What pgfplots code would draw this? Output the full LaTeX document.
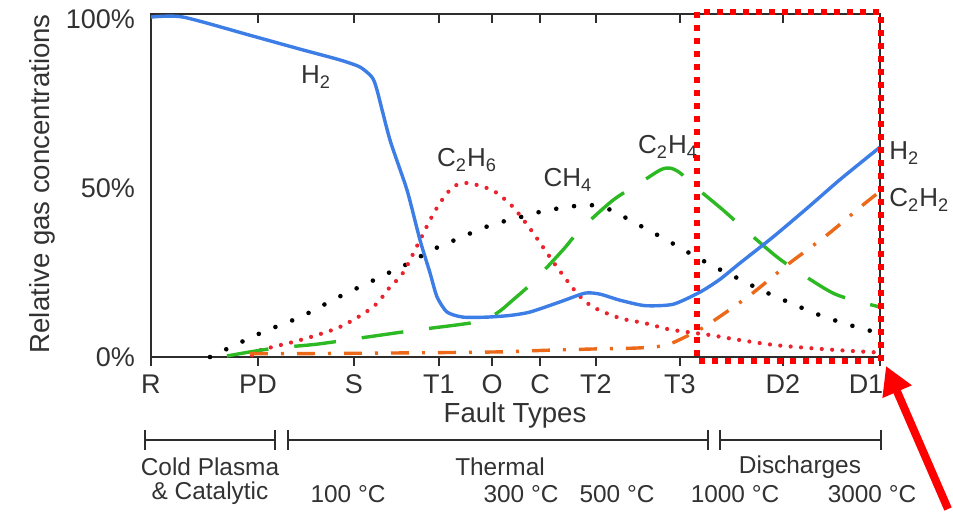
\documentclass[border=0pt]{standalone}
\usepackage{pgfplots}
\pgfplotsset{compat=1.18}
\usepackage{fontspec}
\setmainfont{Liberation Sans}
\usetikzlibrary{arrows.meta}
\definecolor{hblue}{RGB}{60,125,230}
\definecolor{cred}{RGB}{235,35,45}
\definecolor{cgreen}{RGB}{45,185,35}
\definecolor{corange}{RGB}{235,105,25}
\definecolor{textgray}{RGB}{50,50,50}
\definecolor{axisgray}{RGB}{45,45,45}
\definecolor{boxred}{RGB}{255,0,0}
\begin{document}
\begin{tikzpicture}[font=\fontsize{12.5}{15}\selectfont]
\begin{scope}[x=0.5pt,y=-0.5pt,shift={(-75.5pt,178.5pt)}]
\useasboundingbox (0,0) rectangle (953,509);
\end{scope}
\begin{axis}[
  scale only axis, width=364.5pt, height=171.5pt,
  xmin=151, xmax=880, ymin=0, ymax=101.5,
  axis line style={draw=axisgray, line width=1.2pt},
  xtick={151,258,354,439,492,540,596,680,783,880},
  xticklabels={R,PD,S,T1,O,C,T2,T3,D2,{\hspace*{-14pt}D1}},
  xtick pos=left, tick align=outside, major tick length=4.5pt,
  xtick style={draw=axisgray, line width=1.2pt},
  xticklabel style={yshift=-1pt},
  ytick={0,50,100}, yticklabels={0\%,50\%,100\%},
  ytick style={draw=none},
  ticklabel style={text=textgray, font=\fontsize{13.5}{16}\selectfont},
  xlabel={Fault Types}, ylabel={Relative gas concentrations},
  label style={text=textgray, font=\fontsize{13.8}{16}\selectfont},
  xlabel style={at={(axis description cs:0.4993,-0.169)}, anchor=center},
  ylabel style={at={(axis description cs:-0.1495,0.505)}, anchor=center},
  clip=false,
]
% CH4 (black dotted)
\addplot[black, line width=2.3pt, line cap=round, dash pattern=on 0pt off 9pt, smooth, tension=0.5] coordinates {
(210,0)(227,2.4)(263,7.4)(300,11.8)(335,17.2)(353,19.8)(370,22.2)(388,24.8)(407,27.5)(423,30.2)(442,33.1)(460,35.2)(478,37.6)(497,39.6)(517,41.1)(535,42.6)(555,43.8)(573,44.6)(590,45)(610,43.6)(630,40.5)(648,37.6)(665,34.9)(682,32)(700,29)(717,26.3)(735,23.7)(753,21)(770,18.6)(788,16.3)(807,13.9)(825,11.8)(844,10)(863,8.3)(880,7.1)};
% C2H6 (red dotted)
\addplot[cred, line width=2.1pt, line cap=round, dash pattern=on 0pt off 5.2pt, smooth, tension=0.5] coordinates {
(252,0.5)(260,2)(300,5)(340,8.9)(373,14.8)(390,20.7)(403,24.9)(420,34.6)(430,40.5)(440,45.6)(453,50.3)(467,51.5)(487,50)(497,48.5)(513,44.4)(530,38)(547,30.8)(557,26.6)(577,18.9)(593,14.8)(620,11.5)(645,10)(667,8.3)(687,7.4)(710,6.5)(740,5)(773,3.6)(807,2.7)(840,2)(880,1.3)};
% C2H4 (green dashed)
\addplot[cgreen, line width=1.7pt, dash pattern=on 21pt off 13pt, smooth, tension=0.5] coordinates {
(227,0.3)(250,1.5)(277,2.7)(317,3.8)(367,5.9)(417,8)(477,10.4)(497,13)(513,16.9)(533,22.2)(563,31.7)(580,37.6)(613,46.4)(640,51.5)(660,55.3)(670,55.9)(680,54.5)(693,50.9)(723,43.5)(743,38.2)(777,29.6)(800,24.9)(833,18.9)(860,16.3)(880,14.8)};
% C2H2 (orange dash-dot)
\addplot[corange, line width=1.7pt, dash pattern=on 9pt off 6.5pt on 1.5pt off 6.5pt, smooth, tension=0.5] coordinates {
(250,1)(300,1)(400,1.2)(497,1.5)(547,2)(597,2.4)(640,2.7)(667,3.6)(693,7.1)(710,10)(750,18.3)(787,27.2)(827,36.1)(863,45)(880,49)};
% H2 (blue solid)
\addplot[hblue, line width=1.7pt, smooth, tension=0.4] coordinates {
(151,100.6)(183,100.6)(250,95.2)(300,91.1)(340,87.9)(360,85.8)(372,82.8)(377,79)(390,64.2)(407,49.4)(420,34.6)(430,24.9)(437,17.8)(447,13.3)(463,11.8)(487,11.8)(510,12.3)(530,13.3)(560,16.3)(585,18.9)(600,18.6)(620,16.8)(645,15.2)(673,15.6)(700,19.2)(720,23)(740,27.8)(773,35.5)(807,44)(840,52.5)(880,62.1)};
\end{axis}
\begin{scope}[x=0.5pt,y=-0.5pt,shift={(-75.5pt,178.5pt)}, text=textgray]
% top-axis tick marks pointing inward
\foreach \xx in {258,354,439,492,540,596,680,783}
  \draw[axisgray, line width=1.2pt] (\xx,14) -- (\xx,23);
% series labels
\begin{scope}[font=\fontsize{13}{15}\selectfont]
\node at (316,77) {H\textsubscript{2}};
\node at (467,160) {C\textsubscript{2}H\textsubscript{6}};
\node at (568,180) {CH\textsubscript{4}};
\node at (668,147) {C\textsubscript{2}H\textsubscript{4}};
\node[anchor=west, inner sep=0pt] at (889,153) {H\textsubscript{2}};
\node[anchor=west, inner sep=0pt] at (889,200) {C\textsubscript{2}H\textsubscript{2}};
\end{scope}
% brackets
\draw[axisgray, line width=1pt] (145,440) -- (275,440) (145,430) -- (145,450) (275,430) -- (275,450);
\draw[axisgray, line width=1pt] (288,440) -- (708,440) (288,430) -- (288,450) (708,430) -- (708,450);
\draw[axisgray, line width=1pt] (720,440) -- (881,440) (720,430) -- (720,450) (881,430) -- (881,450);
\begin{scope}[font=\fontsize{12.2}{14}\selectfont]
\node at (210,467) {Cold Plasma};
\node at (210,493) {\& Catalytic};
\node at (500,467) {Thermal};
\node at (800,467) {Discharges};
\node at (348,494) {100 °C};
\node at (521,494) {300 °C};
\node at (617,494) {500 °C};
\node at (735,494) {1000 °C};
\node at (872,494) {3000 °C};
\end{scope}
% highlight box and arrow
\draw[boxred, line width=3pt, dash pattern=on 3pt off 3.5pt] (697,12) rectangle (881,361);
\draw[boxred, line width=4pt, -{Triangle[length=14pt,width=15pt]}] (948,509) -- (886,366);
\end{scope}
\end{tikzpicture}
\end{document}
